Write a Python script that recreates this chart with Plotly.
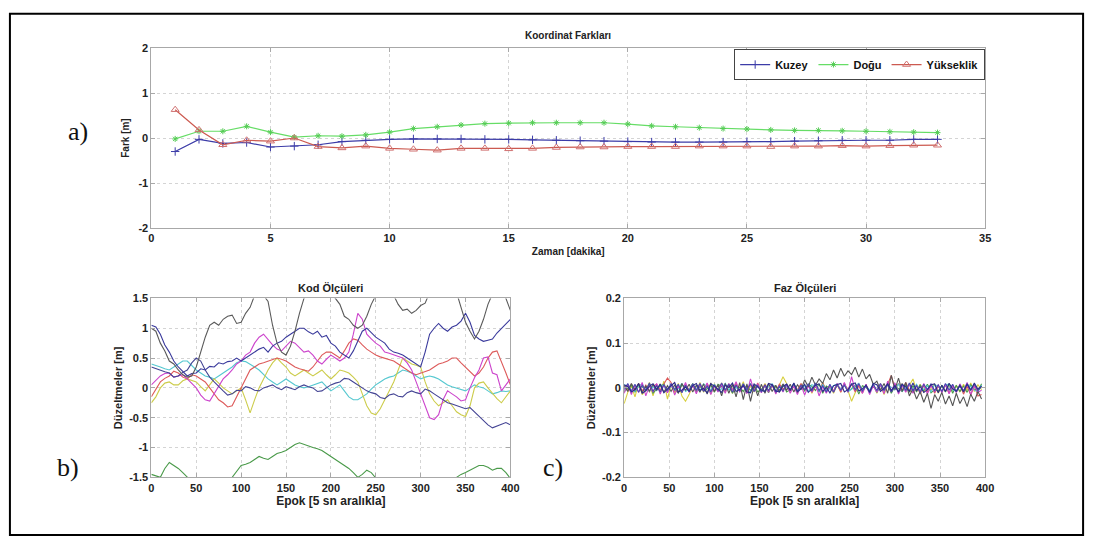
import plotly.graph_objects as go

# ---------- a) Koordinat Farkları ----------
zaman = list(range(1, 34))
kuzey = [-0.30, -0.03, -0.12, -0.10, -0.20, -0.18, -0.15, -0.08, -0.05, -0.03, -0.02, -0.02, -0.02,
         -0.03, -0.03, -0.04, -0.05, -0.06, -0.07, -0.08, -0.09, -0.09, -0.09, -0.09, -0.08, -0.08,
         -0.07, -0.06, -0.05, -0.05, -0.05, -0.03, -0.03]
dogu = [-0.02, 0.15, 0.15, 0.26, 0.13, 0.02, 0.05, 0.04, 0.07, 0.13, 0.21, 0.25, 0.29, 0.32, 0.33,
        0.34, 0.34, 0.34, 0.34, 0.31, 0.27, 0.25, 0.23, 0.21, 0.20, 0.18, 0.17, 0.17, 0.16, 0.15,
        0.14, 0.13, 0.12]
yukseklik = [0.63, 0.18, -0.15, -0.05, -0.07, 0.00, -0.19, -0.22, -0.18, -0.23, -0.25, -0.27, -0.23,
             -0.23, -0.24, -0.23, -0.21, -0.20, -0.20, -0.19, -0.19, -0.19, -0.18, -0.18, -0.18,
             -0.19, -0.18, -0.18, -0.17, -0.18, -0.17, -0.16, -0.16]

# ---------- b) Kod Ölçüleri (every 5 epochs, 0..400) ----------
kod_gray = [1.0, 0.95, 0.75, 0.62, 0.45, 0.4, 0.3, 0.22, 0.18, 0.2, 0.35, 0.6, 0.85, 1.05, 1.1, 1.05,
            1.15, 1.2, 1.22, 1.08, 1.1, 1.25, 1.35, 1.55, 1.7, 1.55, 1.45, 1.05, 0.75, 0.6, 0.55, 0.7,
            0.95, 1.25, 1.5, 1.65, 1.8, 1.85, 1.9, 1.75, 1.6, 1.5, 1.4, 1.2, 1.15, 1.05, 1.0, 1.05,
            1.2, 1.4, 1.55, 1.7, 1.75, 1.6, 1.55, 1.4, 1.3, 1.32, 1.25, 1.3, 1.38, 1.42, 1.6, 1.75,
            1.85, 1.9, 1.8, 1.7, 1.6, 1.35, 1.1, 0.95, 0.82, 0.95, 1.15, 1.4, 1.6, 1.75, 1.7, 1.5, 1.3]
kod_navy1 = [1.05, 1.02, 0.9, 0.72, 0.6, 0.45, 0.35, 0.28, 0.2, 0.24, 0.25, 0.32, 0.3, 0.36, 0.35, 0.42,
             0.4, 0.44, 0.45, 0.5, 0.45, 0.5, 0.55, 0.6, 0.65, 0.68, 0.6, 0.7, 0.75, 0.78, 0.85, 0.9,
             0.95, 1.0, 1.0, 0.94, 0.9, 0.95, 0.85, 0.88, 0.75, 0.7, 0.6, 0.55, 0.5, 0.62, 0.8, 0.95,
             1.0, 0.92, 0.85, 0.8, 0.75, 0.65, 0.6, 0.58, 0.55, 0.5, 0.45, 0.4, 0.35, 0.6, 0.9, 1.0,
             1.08, 1.0, 0.95, 1.02, 1.05, 1.12, 1.25, 1.1, 0.88, 0.82, 0.78, 0.8, 0.82, 0.92, 1.0,
             1.08, 1.15]
kod_navy2 = [0.35, 0.32, 0.3, 0.27, 0.25, 0.18, 0.2, 0.26, 0.3, 0.42, 0.5, 0.45, 0.3, 0.18, 0.1, 0.02,
             -0.05, -0.12, -0.1, -0.04, -0.05, 0.02, 0.0, -0.04, -0.05, 0.0, 0.02, 0.05, 0.0, -0.03,
             0.02, 0.0, -0.03, 0.02, 0.05, 0.02, 0.0, -0.06, -0.05, 0.0, 0.05, 0.08, 0.1, 0.16, 0.15,
             0.1, 0.05, 0.0, -0.05, -0.08, -0.1, -0.16, -0.18, -0.12, -0.1, -0.14, -0.15, -0.08,
             -0.05, -0.08, -0.1, -0.02, -0.05, -0.1, -0.15, -0.2, -0.25, -0.27, -0.3, -0.32, -0.35,
             -0.33, -0.4, -0.48, -0.55, -0.62, -0.67, -0.64, -0.6, -0.58, -0.62]
kod_magenta = [0.05, 0.12, 0.2, 0.24, 0.25, 0.18, 0.2, 0.22, 0.15, 0.08, 0.0, -0.12, -0.2, -0.22, -0.1,
               0.02, 0.15, 0.22, 0.3, 0.4, 0.45, 0.55, 0.6, 0.75, 0.85, 0.9, 0.8, 0.72, 0.65, 0.62,
               0.7, 0.78, 0.75, 0.68, 0.6, 0.62, 0.55, 0.45, 0.4, 0.48, 0.55, 0.5, 0.45, 0.5, 0.6, 0.9,
               1.25, 1.15, 0.9, 0.82, 0.75, 0.7, 0.6, 0.58, 0.55, 0.52, 0.5, 0.42, 0.3, 0.1, -0.1,
               -0.3, -0.5, -0.53, -0.45, -0.2, -0.05, -0.1, -0.15, -0.22, -0.2, 0.0, 0.17, 0.3, 0.5,
               0.52, 0.25, 0.22, -0.05, 0.05, 0.15]
kod_red = [-0.15, -0.02, 0.1, 0.16, 0.2, 0.28, 0.25, 0.18, 0.15, 0.22, 0.2, 0.15, 0.1, 0.0, -0.1, -0.2,
           -0.25, -0.32, -0.3, -0.15, 0.0, 0.15, 0.3, 0.35, 0.4, 0.42, 0.45, 0.48, 0.5, 0.48, 0.45,
           0.4, 0.35, 0.32, 0.3, 0.28, 0.35, 0.45, 0.55, 0.6, 0.6, 0.55, 0.5, 0.62, 0.75, 0.82, 0.8,
           0.72, 0.65, 0.6, 0.55, 0.52, 0.5, 0.48, 0.45, 0.4, 0.35, 0.3, 0.25, 0.22, 0.25, 0.28, 0.3,
           0.35, 0.4, 0.42, 0.45, 0.5, 0.5, 0.42, 0.35, 0.28, 0.2, 0.25, 0.35, 0.5, 0.6, 0.62, 0.45,
           0.25, 0.05]
kod_yellow = [-0.25, -0.15, 0.0, 0.08, 0.1, 0.05, 0.05, 0.12, 0.15, 0.12, 0.1, 0.02, -0.05, 0.05, 0.15,
              0.08, 0.0, -0.05, -0.1, -0.05, 0.0, -0.2, -0.42, -0.2, 0.0, 0.15, 0.3, 0.42, 0.5, 0.42,
              0.35, 0.25, 0.2, 0.25, 0.3, 0.25, 0.2, 0.25, 0.3, 0.22, 0.15, 0.22, 0.3, 0.28, 0.25, 0.18,
              0.1, -0.1, -0.3, -0.42, -0.45, -0.35, -0.2, -0.05, 0.1, 0.3, 0.5, 0.45, 0.4, 0.38, 0.35,
              0.1, -0.1, -0.22, -0.3, -0.25, -0.2, -0.3, -0.4, -0.45, -0.48, -0.3, 0.0, 0.08, 0.1, 0.0,
              -0.1, -0.18, -0.25, -0.15, -0.05]
kod_cyan = [0.4, 0.38, 0.35, 0.32, 0.3, 0.35, 0.4, 0.45, 0.45, 0.38, 0.3, 0.25, 0.2, 0.18, 0.15, 0.2,
            0.25, 0.3, 0.35, 0.42, 0.45, 0.44, 0.4, 0.35, 0.3, 0.22, 0.15, 0.1, 0.05, 0.1, 0.15, 0.1,
            0.05, 0.02, 0.0, 0.02, 0.05, 0.08, 0.1, 0.02, -0.05, 0.0, 0.05, -0.05, -0.15, -0.2, -0.2,
            -0.15, -0.1, -0.02, 0.05, 0.1, 0.15, 0.18, 0.2, 0.25, 0.3, 0.28, 0.25, 0.2, 0.15, 0.18,
            0.2, 0.18, 0.15, 0.1, 0.05, 0.02, 0.0, -0.02, -0.05, 0.0, 0.05, 0.02, 0.0, -0.05, -0.1,
            -0.08, -0.05, -0.06, -0.05]
kod_green = [-1.45, -1.48, -1.5, -1.35, -1.25, -1.3, -1.35, -1.42, -1.5, -1.58, -1.65, -1.72, -1.8,
             -1.85, -1.9, -1.8, -1.7, -1.6, -1.5, -1.4, -1.3, -1.28, -1.25, -1.2, -1.15, -1.18, -1.2,
             -1.15, -1.1, -1.08, -1.05, -1.0, -0.95, -0.92, -0.95, -0.98, -1.0, -1.02, -1.05, -1.1,
             -1.15, -1.2, -1.25, -1.3, -1.35, -1.42, -1.5, -1.45, -1.38, -1.42, -1.5, -1.6, -1.7,
             -1.75, -1.8, -1.85, -1.9, -1.9, -1.9, -1.85, -1.8, -1.78, -1.75, -1.72, -1.7, -1.65,
             -1.6, -1.55, -1.5, -1.45, -1.42, -1.38, -1.35, -1.3, -1.3, -1.33, -1.38, -1.35, -1.35,
             -1.42, -1.52]
kod_step = 5

# ---------- c) Faz Ölçüleri (every 4 epochs, in mm) ----------
faz_gray = [6, -8, 10, -5, 9, -11, 4, -7, 8, -6,
            9, -10, 5, -8, 7, -12, 10, -6, 8, -9,
            6, -10, 9, -14, 11, -8, 7, -18, 10, -12,
            8, -20, 12, -26, 9, -30, 6, -18, 8, -12,
            10, -8, 6, -10, 9, -5, 8, -9, 7, -4,
            18, 2, 24, 6, 20, 10, 32, 18, 40, 22,
            44, 26, 38, 30, 46, 24, 42, 20, 30, 8,
            15, -5, 10, -12, 28, -4, 22, -8, 12, -18,
            -2, -25, -8, -32, -12, -46, -15, -30, -10, -36,
            -18, -40, -12, -35, -20, -42, -14, -30, -8, -25]
faz_navy = [7, 3, -9, -4, 10, -12, -6, 4, 9, -3,
            8, -11, -2, 6, 12, -9, -5, 2, -8, 5,
            10, -6, -1, -12, 9, 4, -4, -10, 6, 1,
            11, -8, -3, 5, -9, -11, 9, 2, -5, -8,
            10, 7, -7, -9, 4, 8, -6, 11, -9, -2,
            8, -10, -3, 6, 9, -8, 1, -11, 5, 7,
            10, -9, -4, 8, 11, -7, -2, 6, -9, 10,
            7, -8, -1, 9, -6, 5, -10, 8, 2, -7,
            11, -6, 3, -10, -4, 7, 9, -11, 6, -8,
            10, -2, -7, 5, -9, 8, -6, 11, -3, 4]
faz_blue = [-4, 10, -7, 8, -10, 6, -5, 11, -8, 5,
            -9, 7, -6, 10, -4, 8, -11, 6, -7, 9,
            -5, 10, -8, 4, -9, 7, -6, 11, -5, 8,
            -10, 6, -7, 9, -4, 10, -8, 5, -9, 7,
            -6, 8, -10, 4, -7, 9, -5, 10, -8, 6,
            -4, 9, -7, 11, -6, 5, -9, 8, -10, 7,
            -5, 6, -8, 10, -4, 9, -7, 5, -11, 8,
            -6, 10, -5, 7, -9, 4, -8, 9, -6, 11,
            -7, 5, -10, 8, -4, 9, -6, 7, -8, 10,
            -5, 8, -9, 6, -7, 10, -4, 8, -6, 3]
faz_magenta = [-12, 8, -15, 6, -10, 12, -18, 5, -9, 10,
               -14, 7, -11, 9, -16, 4, -8, 12, -10, 6,
               -13, 9, -7, 11, -15, 5, -9, 8, -12, 10,
               -6, 14, -10, 7, -13, 20, -8, 9, -11, 6,
               -10, 8, -14, 5, -9, 7, -12, 4, -15, 6,
               -16, 5, -10, 8, -18, 3, -12, 6, -9, 10,
               -7, 12, -10, 25, -6, 9, -12, 8, -15, 5,
               -10, 7, -13, 15, -8, 11, -14, 6, -10, 9,
               -12, 5, -8, 10, -14, 6, -9, 7, -11, 8,
               -13, 6, -10, 9, -7, 12, -15, 5, -10, -5]
faz_red = [5, -6, 8, -4, 10, -7, 6, -9, 4, 8,
           -5, 9, 22, 12, -8, 5, -10, 7, -4, 8,
           -9, 6, -5, 10, -7, 4, -8, 9, -6, 5,
           -4, 10, -7, 6, -9, 8, -5, 11, -6, 7,
           -8, 5, -10, 9, -4, 6, -7, 8, -5, 10,
           -6, 7, -9, 4, -8, 11, -5, 6, -7, 9,
           -10, 8, -6, 8, -9, 5, -12, 7, -8, 4,
           -6, 9, -5, 8, 28, -4, 10, -7, 12, -6,
           -10, 6, -14, 5, -9, 8, -12, 4, -8, 6,
           -12, 5, -10, 7, -14, 4, -16, 6, -18, -15]
faz_yellow = [-35, -10, 5, -20, 10, -15, -5, 12, -18, 8,
              -10, 15, -25, 6, -12, 10, -18, -30, -15, 5,
              -8, 12, -10, 6, -14, 9, -6, 11, -9, 4,
              -12, 7, -8, 14, -10, 6, -9, 8, -7, 10,
              -6, 8, -12, 5, 25, 10, -7, 6, -11, 9,
              -5, 8, -12, 6, -10, 12, -8, 4, -12, 7,
              -9, 10, -6, -30, -11, 8, -7, 5, -10, 9,
              -12, 6, -15, 8, -10, 5, -8, 10, -8, 6,
              20, -6, 8, -10, 7, -5, 9, -12, 6, -8,
              10, -7, 5, -9, 8, -6, 11, -8, 7, -4]
faz_cyan = [8, 2, -6, -8, 5, 9, -4, -7, 3, -6,
            7, 4, -9, 5, -5, -2, 10, -8, -3, 6,
            -4, -7, 9, 3, -5, 8, -8, -2, 10, -5,
            5, 1, -7, 8, -4, -9, 5, 6, -6, -7,
            4, 9, -5, -8, 6, 2, -4, 9, -6, -3,
            5, -8, 7, 4, -9, 8, -6, -2, 5, 9,
            -4, 6, -8, -3, 5, 10, -7, 4, -5, 8,
            -9, 5, -6, 7, 2, -4, 9, -8, -1, 6,
            -5, 8, -6, -3, 5, -9, 7, 4, -8, 6,
            9, -5, -7, 4, -6, 8, 3, -5, -9, 6]
faz_green = [-8, -2, 6, -10, 5, 3, -7, 9, -12, -3,
             4, 8, -9, 5, -3, -11, 7, 2, -5, 10,
             -8, 4, -7, -2, 6, -10, 8, 3, -5, 9,
             -12, 6, 1, -8, 5, -6, 7, -9, -3, 4,
             -11, 7, 2, -5, 8, -9, -4, 6, -10, 5,
             -7, 8, 3, -6, 9, -12, 4, -1, -8, 7,
             -5, 10, -9, -2, 6, -14, 5, 1, -8, 7,
             -10, 6, -7, 9, -12, 4, -2, -8, 6, -10,
             5, -9, 7, -6, 8, -11, -4, -7, 5, -9,
             8, -12, 6, -8, 4, -10, 7, -3, -7, 9]
faz_step = 4

# tick labels
a_xticks = [0, 5, 10, 15, 20, 25, 30, 35]
a_yticks = [-2, -1, 0, 1, 2]
a_ytext = ["-2", "-1", "0", "1", "2"]
b_xticks = [0, 50, 100, 150, 200, 250, 300, 350, 400]
b_yticks = [-1.5, -1, -0.5, 0, 0.5, 1, 1.5]
b_ytext = ["-1.5", "-1", "-0.5", "0", "0.5", "1", "1.5"]
c_yticks = [-0.2, -0.1, 0, 0.1, 0.2]
c_ytext = ["-0.2", "-0.1", "0", "0.1", "0.2"]

W, H = 1100, 544
def px_x(a, b):
    return [a / W, b / W]
def px_y(top, bottom):
    return [1 - bottom / H, 1 - top / H]

fig = go.Figure()

# a)
fig.add_trace(go.Scatter(x=zaman, y=kuzey, name="Kuzey", mode="lines+markers",
                         line=dict(color="#3c3ca8", width=1.2),
                         marker=dict(symbol="cross-thin", size=6, line=dict(color="#3c3ca8", width=1)),
                         xaxis="x", yaxis="y"))
fig.add_trace(go.Scatter(x=zaman, y=dogu, name="Doğu", mode="lines+markers",
                         line=dict(color="#66dd66", width=1.2),
                         marker=dict(symbol="asterisk", size=5, line=dict(color="#55cc55", width=1)),
                         xaxis="x", yaxis="y"))
fig.add_trace(go.Scatter(x=zaman, y=yukseklik, name="Yükseklik", mode="lines+markers",
                         line=dict(color="#cc5a50", width=1.2),
                         marker=dict(symbol="triangle-up-open", size=7, color="#d07070",
                                     line=dict(color="#d07070", width=1)),
                         xaxis="x", yaxis="y"))

kod = [(kod_green, "#4a9a4a"), (kod_cyan, "#55c8d0"), (kod_yellow, "#cccc4a"), (kod_red, "#dd5a5a"),
       (kod_magenta, "#cc44cc"), (kod_navy2, "#444494"), (kod_navy1, "#3a3a9c"), (kod_gray, "#5a5a5a")]
for vals, col in kod:
    fig.add_trace(go.Scatter(x=[i * kod_step for i in range(len(vals))], y=vals, mode="lines",
                             line=dict(color=col, width=1.1), showlegend=False,
                             xaxis="x2", yaxis="y2"))

faz = [(faz_yellow, "#d8d040"), (faz_red, "#dd5a5a"), (faz_green, "#4a9a4a"),
       (faz_cyan, "#55c8d0"), (faz_magenta, "#cc44cc"), (faz_gray, "#555555"),
       (faz_blue, "#4a4ab0"), (faz_navy, "#2c2c88")]
for vals, col in faz:
    fig.add_trace(go.Scatter(x=[i * faz_step for i in range(len(vals))], y=[v / 1000 for v in vals],
                             mode="lines", line=dict(color=col, width=1.1), showlegend=False,
                             xaxis="x3", yaxis="y3"))

tickfont = dict(family="Liberation Sans, Arial", size=11, color="#222", weight="bold")
titlefont = dict(family="Liberation Sans, Arial", size=11, color="#222", weight="bold")
common = dict(showline=True, linecolor="#a8a8a8", linewidth=1, mirror="ticks", ticks="inside",
              ticklen=4, tickcolor="#a8a8a8", showgrid=True, gridcolor="#d4d4d4",
              griddash="dot", gridwidth=1, zeroline=False, tickfont=tickfont)

fig.update_layout(
    width=W, height=H, margin=dict(l=0, r=0, t=0, b=0),
    paper_bgcolor="white", plot_bgcolor="white",
    xaxis=dict(domain=px_x(150, 993), range=[0, 35], tickvals=a_xticks, anchor="y",
               title=dict(text="Zaman [dakika]", font=dict(titlefont, size=10), standoff=4), **common),
    yaxis=dict(domain=px_y(43, 227), range=[-2, 2], tickvals=a_yticks, ticktext=a_ytext, anchor="x",
               title=dict(text="Fark [m]", font=dict(titlefont, size=10), standoff=6), **common),
    xaxis2=dict(domain=px_x(150, 513), range=[0, 400], tickvals=b_xticks, anchor="y2",
                title=dict(text="Epok [5 sn aralıkla]", font=dict(titlefont, size=12), standoff=2), **common),
    yaxis2=dict(domain=px_y(299, 482), range=[-1.5, 1.5], tickvals=b_yticks, ticktext=b_ytext,
                anchor="x2", title=dict(text="Düzeltmeler [m]", font=titlefont, standoff=4), **common),
    xaxis3=dict(domain=px_x(628, 993), range=[0, 400], tickvals=b_xticks, anchor="y3",
                title=dict(text="Epok [5 sn aralıkla]", font=dict(titlefont, size=12), standoff=2), **common),
    yaxis3=dict(domain=px_y(299, 482), range=[-0.2, 0.2], tickvals=c_yticks, ticktext=c_ytext,
                anchor="x3", title=dict(text="Düzeltmeler [m]", font=titlefont, standoff=4), **common),
    legend=dict(orientation="h", x=993 / W, y=1 - 44 / H, xanchor="right", yanchor="top",
                bgcolor="white", bordercolor="#444", borderwidth=1,
                font=dict(family="Liberation Sans, Arial", size=11, color="#111", weight="bold"),
                itemwidth=30, tracegroupgap=0),
    showlegend=True,
)

serif = dict(family="Liberation Serif, Times New Roman", size=26, color="#111")
ann = [
    dict(text="Koordinat Farkları", x=(150 + 993) / 2 / W, y=1 - 30 / H, font=dict(titlefont, size=10)),
    dict(text="Kod Ölçüleri", x=(150 + 513) / 2 / W, y=1 - 288 / H, font=titlefont),
    dict(text="Faz Ölçüleri", x=(628 + 993) / 2 / W, y=1 - 288 / H, font=titlefont),
    dict(text="a)", x=76 / W, y=1 - 128 / H, font=serif),
    dict(text="b)", x=66 / W, y=1 - 472 / H, font=serif),
    dict(text="c)", x=556 / W, y=1 - 472 / H, font=serif),
]
for a in ann:
    fig.add_annotation(xref="paper", yref="paper", showarrow=False, xanchor="center", yanchor="middle", **a)

fig.add_shape(type="rect", xref="paper", yref="paper", x0=7 / W, x1=1092 / W, y0=1 - 541 / H, y1=1 - 8 / H,
              line=dict(color="black", width=2))

fig.write_html("out.html")
